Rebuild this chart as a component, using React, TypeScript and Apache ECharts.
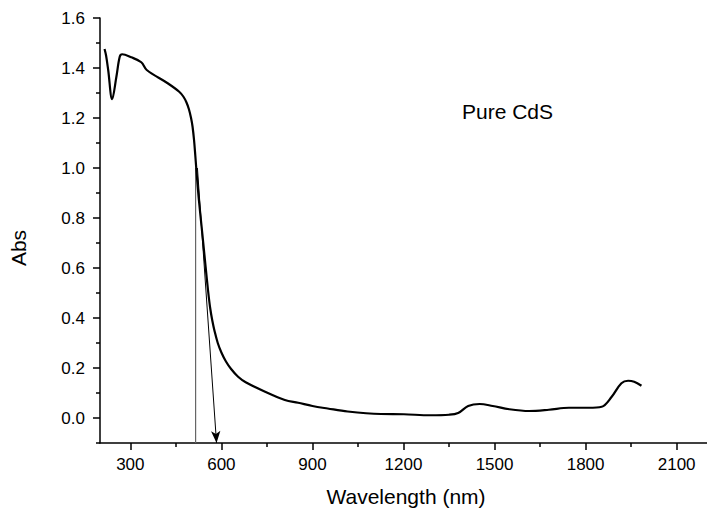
import React, { useEffect, useRef } from "react";
import * as echarts from "echarts";

const wavelength = [
  215, 220, 227, 240, 254, 265, 273, 303, 336, 354, 423, 461, 475, 485, 493, 500,
  505, 510, 514, 519, 526, 537, 548, 556, 563, 570, 578, 588, 600, 615, 632, 655,
  680, 744, 809, 853, 900, 950, 1016, 1125, 1201, 1288, 1350, 1380, 1413, 1451,
  1494, 1549, 1614, 1679, 1745, 1810, 1853, 1886, 1918, 1940, 1960, 1984,
];
const absorbance = [
  1.476, 1.45, 1.392, 1.275, 1.365, 1.445, 1.455, 1.443, 1.423, 1.392, 1.339, 1.305,
  1.285, 1.262, 1.235, 1.2, 1.165, 1.11, 1.05, 0.97, 0.87, 0.739, 0.605, 0.51, 0.44,
  0.39, 0.345, 0.3, 0.262, 0.226, 0.196, 0.165, 0.143, 0.105, 0.072, 0.061, 0.048,
  0.038, 0.026, 0.016, 0.015, 0.011, 0.013, 0.02, 0.048, 0.056, 0.048, 0.035, 0.028,
  0.033, 0.041, 0.041, 0.045, 0.085, 0.139, 0.149, 0.145, 0.129,
];

const xMajorTicks = [300, 600, 900, 1200, 1500, 1800, 2100];
const xMinorTicks = [450, 750, 1050, 1350, 1650, 1950];
const yMajorTicks = [0, 0.2, 0.4, 0.6, 0.8, 1.0, 1.2, 1.4, 1.6];
const yMinorTicks = [-0.1, 0.1, 0.3, 0.5, 0.7, 0.9, 1.1, 1.3, 1.5];

const edgeX = 515;
const edgeTop = 1.0;
const arrowStart = [521, 1.0];
const arrowEnd = [584, -0.1];

const sampleLabel = "Pure CdS";
const xTitle = "Wavelength (nm)";
const yTitle = "Abs";

const FONT = "'Liberation Sans', Arial, sans-serif";

export default function App() {
  const ref = useRef<HTMLDivElement>(null);
  useEffect(() => {
    if (!ref.current) return;
    const chart = echarts.init(ref.current, null, { renderer: "svg" });
    const xBase = { type: "value", min: 200, max: 2200, splitLine: { show: false } };
    const yBase = { type: "value", min: -0.1, max: 1.6, splitLine: { show: false } };
    chart.setOption({
      animation: false,
      backgroundColor: "#fff",
      grid: { left: 100, top: 18, bottom: 65, right: -6, containLabel: false },
      xAxis: [
        {
          ...xBase,
          position: "bottom",
          axisLine: { show: true, onZero: false, lineStyle: { color: "#000", width: 1.5 } },
          axisTick: { show: true, inside: false, length: 7, customValues: xMajorTicks, lineStyle: { color: "#000", width: 1.5 } },
          axisLabel: {
            show: true,
            customValues: xMajorTicks,
            margin: 13,
            fontSize: 17,
            color: "#000",
            fontFamily: FONT,
            formatter: (v: number) => String(v),
          },
        },
        {
          ...xBase,
          position: "bottom",
          axisLine: { show: false, onZero: false },
          axisTick: { show: true, inside: false, length: 4, customValues: xMinorTicks, lineStyle: { color: "#000", width: 1.5 } },
          axisLabel: { show: false },
        },
      ],
      yAxis: [
        {
          ...yBase,
          position: "left",
          axisLine: { show: true, onZero: false, lineStyle: { color: "#000", width: 1.5 } },
          axisTick: { show: true, inside: false, length: 7, customValues: yMajorTicks, lineStyle: { color: "#000", width: 1.5 } },
          axisLabel: {
            show: true,
            customValues: yMajorTicks,
            margin: 15,
            fontSize: 17,
            color: "#000",
            fontFamily: FONT,
            formatter: (v: number) => v.toFixed(1),
          },
        },
        {
          ...yBase,
          position: "left",
          axisLine: { show: false, onZero: false },
          axisTick: { show: true, inside: false, length: 4, customValues: yMinorTicks, lineStyle: { color: "#000", width: 1.5 } },
          axisLabel: { show: false },
        },
      ],
      series: [
        {
          type: "line",
          xAxisIndex: 0,
          yAxisIndex: 0,
          data: [
            [edgeX, -0.1],
            [edgeX, edgeTop],
          ],
          showSymbol: false,
          lineStyle: { color: "#666", width: 1.2 },
          z: 1,
        },
        {
          type: "line",
          xAxisIndex: 0,
          yAxisIndex: 0,
          data: wavelength.map((w, i) => [w, absorbance[i]]),
          showSymbol: false,
          smooth: 0.35,
          lineStyle: { color: "#000", width: 2.2 },
          z: 3,
          markLine: {
            silent: true,
            symbol: ["none", "arrow"],
            symbolSize: [7, 12],
            label: { show: false },
            lineStyle: { color: "#000", width: 1, type: "solid" },
            data: [[{ coord: arrowStart }, { coord: arrowEnd }]],
          },
        },
      ],
      graphic: [
        {
          type: "text",
          left: 462,
          top: 101,
          style: { text: sampleLabel, fontSize: 21, fontFamily: FONT, fill: "#000" },
        },
        {
          type: "text",
          x: 406,
          y: 496,
          style: { text: xTitle, fontSize: 21, fontFamily: FONT, fill: "#000", align: "center", verticalAlign: "middle" },
        },
        {
          type: "text",
          x: 18,
          y: 248,
          rotation: Math.PI / 2,
          style: { text: yTitle, fontSize: 21, fontFamily: FONT, fill: "#000", align: "center", verticalAlign: "middle" },
        },
      ],
    });
    return () => chart.dispose();
  }, []);
  return (
    <div
      ref={ref}
      style={{ position: "fixed", left: 0, top: 0, width: 707, height: 508, background: "#fff" }}
    />
  );
}
